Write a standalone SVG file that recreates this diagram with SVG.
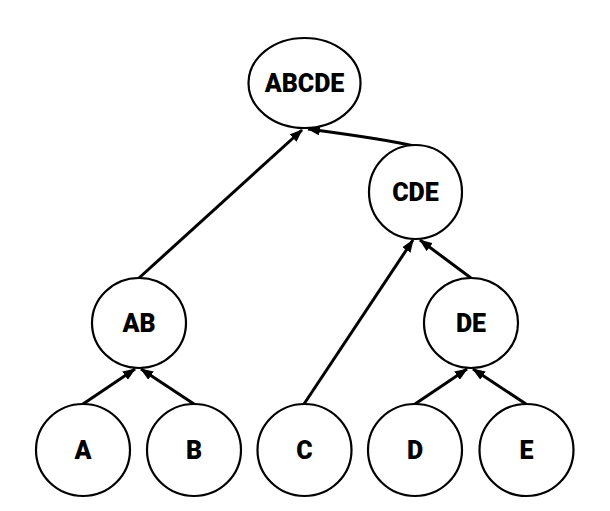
<svg xmlns="http://www.w3.org/2000/svg" width="610" height="511" viewBox="0 0 610 511">
  <style>
    .node ellipse { fill: #ffffff; stroke: #000000; stroke-width: 2.2; }
    .node text { font-family: Roboto, "Liberation Sans", sans-serif; font-weight: 900; font-size: 25px; text-anchor: middle; fill: #000000; }
    .edge { fill: none; stroke: #000000; stroke-width: 3; marker-end: url(#arrow); }
  </style>
  <defs>
    <marker id="arrow" viewBox="0 0 13 10" refX="12" refY="5" markerWidth="13" markerHeight="10" orient="auto" markerUnits="userSpaceOnUse">
      <path d="M0,0 L13,5 L0,10 Z" fill="#000000"/>
    </marker>
  </defs>
  <rect width="610" height="511" fill="#ffffff"/>

  <!-- connectors: child to parent -->
  <g id="edges">
    <path class="edge" d="M139,278 L302,130"/>
    <path class="edge" d="M414,146 Q390,140 308,129"/>
    <path class="edge" d="M304,404 L413,240"/>
    <path class="edge" d="M471,278 L420,240"/>
    <path class="edge" d="M83,404 L135,369"/>
    <path class="edge" d="M194,404 L141,369"/>
    <path class="edge" d="M415,404 L467,369"/>
    <path class="edge" d="M526,404 L473,369"/>
  </g>

  <g id="ABCDE" class="node">
    <ellipse cx="304.5" cy="83" rx="56" ry="45"/>
    <text x="304.5" y="92">ABCDE</text>
  </g>
  <g id="CDE" class="node">
    <ellipse cx="415.5" cy="192" rx="46.5" ry="47"/>
    <text x="415.5" y="201">CDE</text>
  </g>
  <g id="AB" class="node">
    <ellipse cx="139" cy="323" rx="47" ry="45"/>
    <text x="139" y="332">AB</text>
  </g>
  <g id="DE" class="node">
    <ellipse cx="471" cy="323" rx="47" ry="45"/>
    <text x="471" y="332">DE</text>
  </g>
  <g id="A" class="node">
    <ellipse cx="83" cy="450" rx="47" ry="46"/>
    <text x="83" y="459">A</text>
  </g>
  <g id="B" class="node">
    <ellipse cx="194" cy="450" rx="47" ry="46"/>
    <text x="194" y="459">B</text>
  </g>
  <g id="C" class="node">
    <ellipse cx="304.5" cy="450" rx="47" ry="46"/>
    <text x="304.5" y="459">C</text>
  </g>
  <g id="D" class="node">
    <ellipse cx="415" cy="450" rx="47" ry="46"/>
    <text x="415" y="459">D</text>
  </g>
  <g id="E" class="node">
    <ellipse cx="526.5" cy="450" rx="47" ry="46"/>
    <text x="526.5" y="459">E</text>
  </g>
</svg>
